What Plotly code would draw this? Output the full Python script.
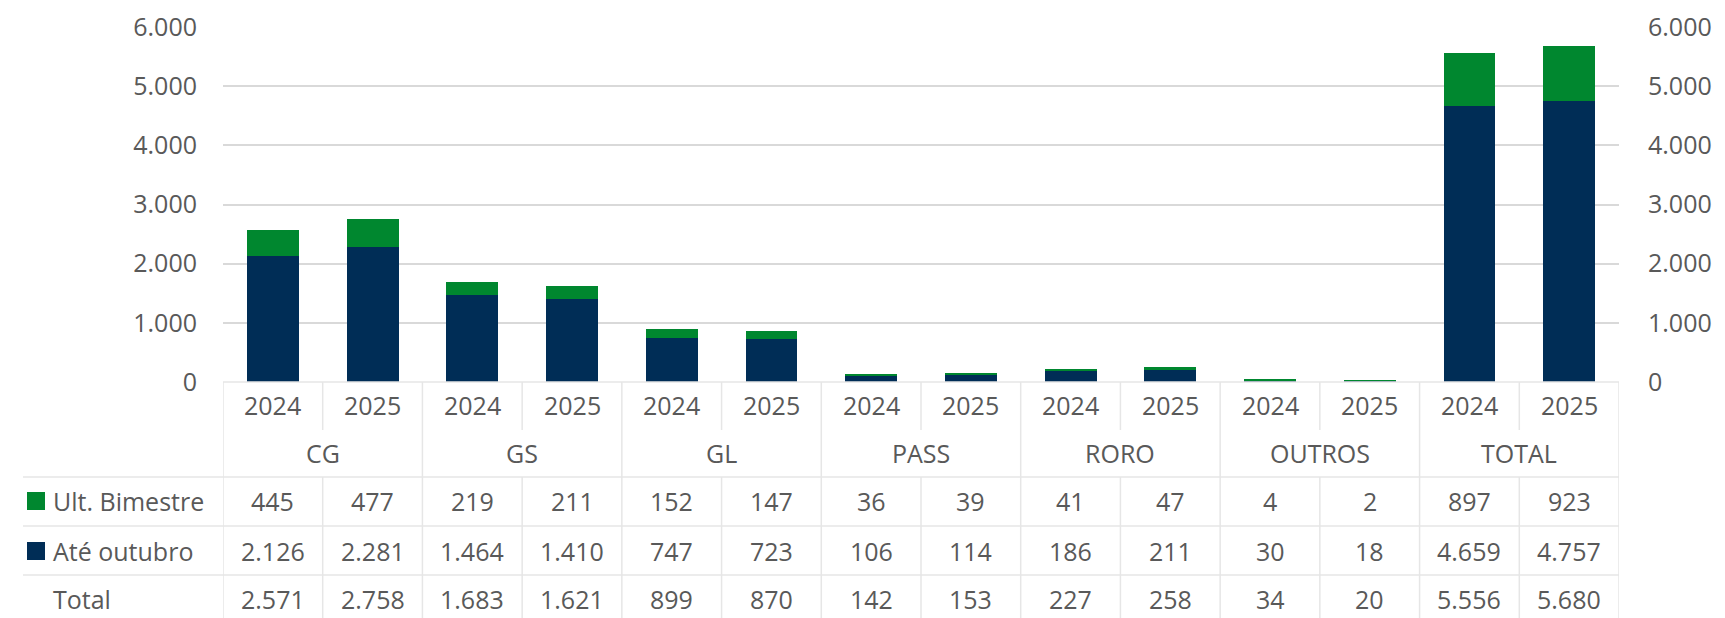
import plotly.graph_objects as go

categories = ["CG", "GS", "GL", "PASS", "RORO", "OUTROS", "TOTAL"]
years = ["2024", "2025"]
ult_bimestre = [445, 477, 219, 211, 152, 147, 36, 39, 41, 47, 4, 2, 897, 923]
ate_outubro = [2126, 2281, 1464, 1410, 747, 723, 106, 114, 186, 211, 30, 18, 4659, 4757]
total = [2571, 2758, 1683, 1621, 899, 870, 142, 153, 227, 258, 34, 20, 5556, 5680]
row_labels = ["Ult. Bimestre", "Até outubro", "Total"]

NAVY = "#002D56"
GREEN = "#00872F"
GRID = "#D9D9D9"
TLINE = "#E6E6E6"
TXT = "#595959"
FONT = "Open Sans"
FS = 25

# page offset of the figure inside the html body (default body margin)
O = 8
W, H = 1725 - O, 618 - O
# plot area in page pixel coordinates
PL, PR, PT, PB = 223, 1619, 27, 382
pw, ph = PR - PL, PB - PT


def py(p):
    return (PB - p) / ph


def pxx(p):
    return (p - PL) / pw


def fmt(v):
    return f"{v:,}".replace(",", ".")


xs = list(range(len(ult_bimestre)))

fig = go.Figure()
fig.add_bar(x=xs, y=ate_outubro, marker=dict(color=NAVY, line=dict(width=0)), name=row_labels[1])
fig.add_bar(x=xs, y=ult_bimestre, marker=dict(color=GREEN, line=dict(width=0)), name=row_labels[0])
fig.add_scatter(x=xs, y=total, yaxis="y2", mode="markers", marker=dict(opacity=0),
                showlegend=False, hoverinfo="skip")

shapes = []
annotations = []


def hline(y, x0, x1):
    shapes.append(dict(type="line", xref="paper", yref="paper", x0=pxx(x0), x1=pxx(x1),
                       y0=py(y), y1=py(y), line=dict(color=TLINE, width=1.5)))


def vline(xdata, y0, y1):
    shapes.append(dict(type="line", xref="x", yref="paper", x0=xdata, x1=xdata,
                       y0=py(y0), y1=py(y1), line=dict(color=TLINE, width=1.5)))


def text(x, y, s, xref="x", xanchor="center"):
    annotations.append(dict(x=x, y=py(y), xref=xref, yref="paper", text=s, showarrow=False,
                            xanchor=xanchor, yanchor="middle",
                            font=dict(family=FONT, size=FS, color=TXT)))


# table structure
hline(PB, PL, PR)
n = len(xs)
for i in range(n + 1):
    xd = i - 0.5
    if i % 2 == 0:
        vline(xd, PB, 640)
    else:
        vline(xd, PB, 430)
        vline(xd, 477, 640)
for yy in [477, 526, 575]:
    hline(yy, 23, PR)

# year row and category row
for i in xs:
    text(i, 405, years[i % 2])
for j, c in enumerate(categories):
    text(2 * j + 0.5, 453, c)

# data rows
rows = [ult_bimestre, ate_outubro, total]
row_y = [501, 551, 599]
for r, vals in enumerate(rows):
    for i in xs:
        text(i, row_y[r], fmt(vals[i]))
    text(pxx(51), row_y[r], row_labels[r], xref="paper", xanchor="left")

# legend keys
for r, col in [(0, GREEN), (1, NAVY)]:
    yc = row_y[r]
    shapes.append(dict(type="rect", xref="paper", yref="paper", x0=pxx(27), x1=pxx(45),
                       y0=py(yc + 9), y1=py(yc - 9), fillcolor=col, line=dict(width=0)))

fig.update_layout(
    width=W, height=H,
    margin=dict(l=PL - O, r=1725 - PR, t=PT - O, b=618 - PB, autoexpand=False),
    barmode="stack", bargap=0.48,
    plot_bgcolor="white", paper_bgcolor="white",
    showlegend=False,
    separators=",.",
    font=dict(family=FONT, size=FS, color=TXT),
    xaxis=dict(range=[-0.5, n - 0.5], showticklabels=False, showgrid=False, zeroline=False,
               showline=False, fixedrange=True),
    yaxis=dict(range=[0, 6000], dtick=1000, tickformat=",d", gridcolor=GRID, gridwidth=1.5,
               zeroline=False, showline=False, ticks="", ticklabelstandoff=25,
               tickfont=dict(family=FONT, size=FS, color=TXT)),
    yaxis2=dict(range=[0, 6000], dtick=1000, tickformat=",d", overlaying="y", side="right",
                showgrid=False, zeroline=False, showline=False, ticks="", ticklabelstandoff=28,
                tickfont=dict(family=FONT, size=FS, color=TXT)),
    shapes=shapes, annotations=annotations,
)

fig.write_html("out.html")
